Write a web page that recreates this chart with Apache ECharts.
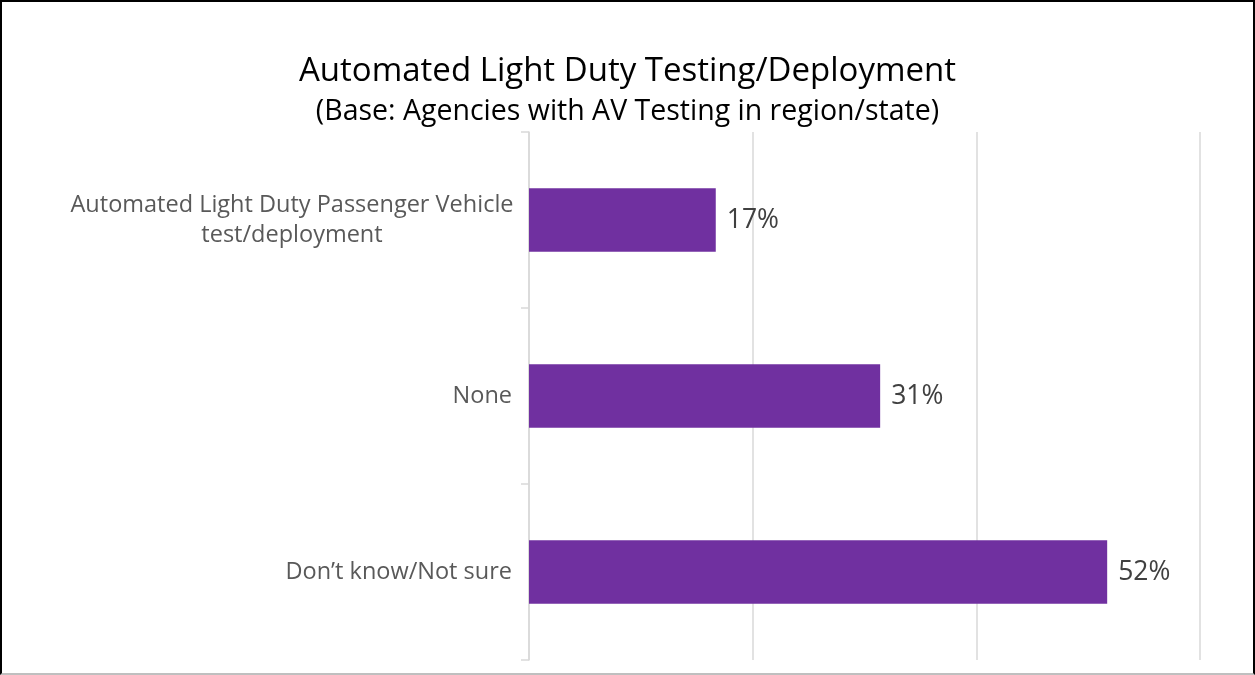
<!DOCTYPE html>
<html lang="en">
<head>
    <meta charset="UTF-8">
    <title>Automated Light Duty Testing/Deployment</title>
    <script src="https://cdn.jsdelivr.net/npm/echarts@6/dist/echarts.min.js"></script>
    <style>
        html, body { margin: 0; padding: 0; background: #fff; }
        #frame {
            position: absolute; left: 0; top: 0;
            width: 1255px; height: 675px;
            box-sizing: border-box;
            border-left: 2px solid #000;
            border-top: 2px solid #000;
            border-right: 2px solid #000;
            border-bottom: 2px solid #bfbfbf;
        }
        #main { position: absolute; left: 0; top: 0; width: 1255px; height: 675px; }
    </style>
</head>
<body>
<div id="frame"></div>
<div id="main"></div>
<script type="text/javascript">
    // data
    var categories = ['Automated Light Duty Passenger Vehicle test/deployment', 'None', 'Don\u2019t know/Not sure'];
    var values = [16.7, 31.4, 51.7];
    var xTicks = [0, 20, 40, 60];

    var myChart = echarts.init(document.getElementById('main'));
    var font = 'Open Sans';

    var option = {
        animation: false,
        title: {
            text: 'Automated Light Duty Testing/Deployment',
            subtext: '(Base: Agencies with AV Testing in region/state)',
            left: 'center',
            top: 50,
            itemGap: 9,
            textStyle: { fontFamily: font, fontSize: 33, fontWeight: 'normal', color: '#000' },
            subtextStyle: { fontFamily: font, fontSize: 28.5, color: '#000' }
        },
        grid: { left: 529, right: 55, top: 132, bottom: 15 },
        xAxis: {
            type: 'value',
            min: xTicks[0],
            max: xTicks[xTicks.length - 1],
            interval: 20,
            axisLabel: { show: false },
            axisLine: { show: false },
            axisTick: { show: false },
            splitLine: { show: true, lineStyle: { color: '#d9d9d9', width: 1.5 } }
        },
        yAxis: {
            type: 'category',
            inverse: true,
            data: categories,
            axisLine: { show: true, lineStyle: { color: '#d9d9d9', width: 1.5 } },
            axisTick: { show: true, length: 8, lineStyle: { color: '#d9d9d9', width: 1.5 } },
            axisLabel: {
                margin: 17,
                fontFamily: font,
                fontSize: 23.5,
                color: '#595959',
                lineHeight: 30,
                formatter: function (v) {
                    if (v.indexOf('Passenger') > -1) {
                        return '{c|Automated Light Duty Passenger Vehicle}\n{c|test/deployment}';
                    }
                    return v;
                },
                rich: {
                    c: { width: 440, align: 'center', fontFamily: font, fontSize: 23.5, color: '#595959', lineHeight: 30 }
                }
            }
        },
        series: [{
            type: 'bar',
            data: values,
            barWidth: '36%',
            itemStyle: { color: '#7030a0' },
            label: {
                show: true,
                position: 'right',
                distance: 11,
                fontFamily: font,
                fontSize: 26.5,
                color: '#404040',
                formatter: function (p) { return Math.round(p.value) + '%'; }
            }
        }]
    };
    myChart.setOption(option);
</script>
</body>
</html>
